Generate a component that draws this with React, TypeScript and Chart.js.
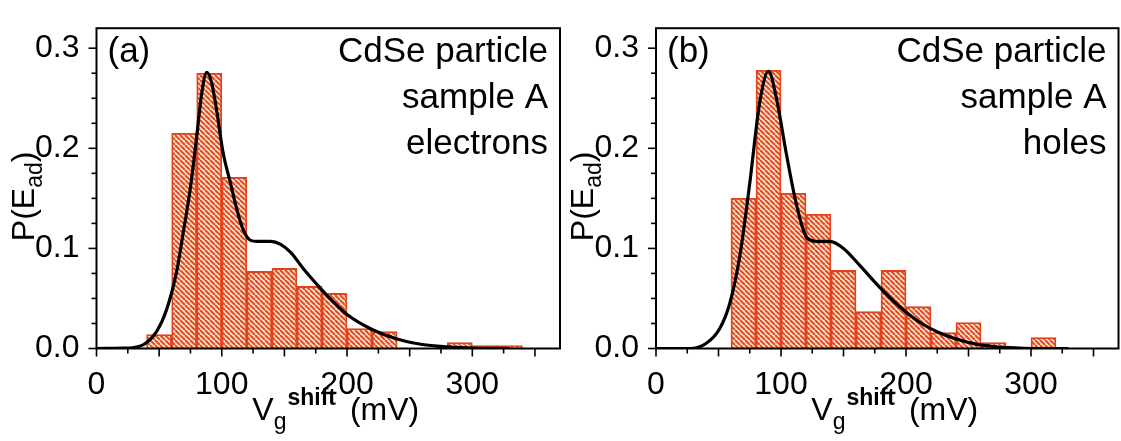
import React, { useEffect, useRef } from "react";
import { Chart, registerables } from "chart.js";

Chart.register(...registerables);

// ---------------- data ----------------
const binWidth = 20;
const binStartsA = [40, 60, 80, 100, 120, 140, 160, 180, 200, 220, 240, 260, 280, 300, 320];
const binValuesA = [0.014, 0.215, 0.275, 0.171, 0.077, 0.08, 0.062, 0.055, 0.02, 0.017, 0, 0, 0.006, 0.003, 0.003];
const binStartsB = [60, 80, 100, 120, 140, 160, 180, 200, 220, 240, 260, 280, 300];
const binValuesB = [0.15, 0.278, 0.155, 0.134, 0.078, 0.037, 0.078, 0.042, 0.016, 0.026, 0.006, 0, 0.011];

const curveXA = [0, 20, 30, 39, 48, 56, 64, 69, 75, 80, 84, 88, 92, 96, 101, 107, 112, 117, 123, 128, 139, 147, 155, 165, 176, 187, 200, 220, 240, 260, 280, 300, 330];
const curveYA = [0, 0.0003, 0.001, 0.005, 0.017, 0.039, 0.077, 0.114, 0.161, 0.212, 0.255, 0.276, 0.265, 0.237, 0.196, 0.165, 0.139, 0.119, 0.108, 0.107, 0.107, 0.104, 0.096, 0.08, 0.064, 0.049, 0.034, 0.019, 0.0094, 0.004, 0.0016, 0.0003, 0];
const curveXB = [0, 27, 40, 51, 59, 67, 75, 83, 90, 96.5, 104.5, 112.5, 120.5, 128.5, 139, 150, 163, 179, 192, 210, 230, 250, 270, 290, 310, 330];
const curveYB = [0, 0, 0.005, 0.02, 0.045, 0.092, 0.165, 0.246, 0.277, 0.249, 0.193, 0.143, 0.111, 0.107, 0.107, 0.1, 0.083, 0.061, 0.045, 0.027, 0.014, 0.006, 0.002, 0.0005, 0, 0];

const xTickLabels = [0, 100, 200, 300];
const yTickLabels = [0.0, 0.1, 0.2, 0.3];
const xRange = [0, 370];
const yRange = [0, 0.32];

const panelLabelA = "(a)";
const panelLabelB = "(b)";
const annotationA = ["CdSe particle", "sample A", "electrons"];
const annotationB = ["CdSe particle", "sample A", "holes"];

// ---------------- styling ----------------
const FONT = "'Liberation Sans', Arial, sans-serif";
const BAR_BORDER = "#e3401c";
const HATCH_LINE = "#e24a28";
const HATCH_BG = "#fce8cc";

function makeHatch(): CanvasPattern | string {
  const s = 5;
  const c = document.createElement("canvas");
  c.width = s;
  c.height = s;
  const g = c.getContext("2d");
  if (!g) return HATCH_BG;
  g.fillStyle = HATCH_BG;
  g.fillRect(0, 0, s, s);
  g.strokeStyle = HATCH_LINE;
  g.lineWidth = 2;
  for (let k = -1; k <= 1; k++) {
    g.beginPath();
    g.moveTo(k * s, 0);
    g.lineTo(k * s + s, s);
    g.stroke();
  }
  return g.createPattern(c, "repeat") || HATCH_BG;
}

function decorPlugin(panelLabel: string, annotation: string[]) {
  return {
    id: "decor",
    afterDraw(chart: any) {
      const ctx: CanvasRenderingContext2D = chart.ctx;
      const a = chart.chartArea;
      const xs = chart.scales.x;
      const ys = chart.scales.y;
      ctx.save();
      // frame
      ctx.strokeStyle = "#000";
      ctx.lineWidth = 2;
      ctx.strokeRect(a.left, a.top, a.right - a.left, a.bottom - a.top);
      // x ticks
      ctx.lineWidth = 1.6;
      for (let v = 0; v <= xRange[1]; v += 25) {
        const px = xs.getPixelForValue(v);
        const len = v % 50 === 0 ? 8 : 5;
        ctx.beginPath();
        ctx.moveTo(px, a.bottom);
        ctx.lineTo(px, a.bottom + len);
        ctx.stroke();
      }
      // y ticks
      for (let i = 0; i * 0.025 <= yRange[1] + 1e-9; i++) {
        const v = i * 0.025;
        const py = ys.getPixelForValue(v);
        const len = i % 4 === 0 ? 8 : 5;
        ctx.beginPath();
        ctx.moveTo(a.left, py);
        ctx.lineTo(a.left - len, py);
        ctx.stroke();
      }
      ctx.fillStyle = "#000";
      // panel label
      ctx.textAlign = "left";
      ctx.textBaseline = "alphabetic";
      ctx.font = `35px ${FONT}`;
      ctx.fillText(panelLabel, a.left + 11, a.top + 34);
      // annotation
      ctx.textAlign = "right";
      ctx.font = `35px ${FONT}`;
      annotation.forEach((t, i) => {
        ctx.fillText(t, a.right - 12, a.top + 34 + i * 46);
      });
      // x title: V_g^shift (mV)
      ctx.textAlign = "left";
      const cx = (a.left + a.right) / 2 + 7;
      const base = a.bottom + 71;
      const big = `32px ${FONT}`;
      const sub = `23px ${FONT}`;
      const sup = `bold 23px ${FONT}`;
      ctx.font = big;
      const wV = ctx.measureText("V").width;
      ctx.font = sub;
      const wg = ctx.measureText("g").width;
      ctx.font = sup;
      const ws = ctx.measureText("shift").width;
      ctx.font = big;
      const wm = ctx.measureText(" (mV)").width;
      const gap = 5;
      let x0 = cx - (wV + wg + ws + wm + gap) / 2;
      ctx.font = big;
      ctx.fillText("V", x0, base);
      x0 += wV;
      ctx.font = sub;
      ctx.fillText("g", x0, base + 9);
      x0 += wg + 1;
      ctx.font = sup;
      ctx.fillText("shift", x0, base - 15);
      x0 += ws + gap;
      ctx.font = big;
      ctx.fillText(" (mV)", x0, base);
      // y title: P(E_ad)
      ctx.save();
      const ty = (a.top + a.bottom) / 2 + 8;
      ctx.translate(a.left - 63, ty);
      ctx.rotate(-Math.PI / 2);
      ctx.font = big;
      const w1 = ctx.measureText("P(E").width;
      ctx.font = sub;
      const w2 = ctx.measureText("ad").width;
      ctx.font = big;
      const w3 = ctx.measureText(")").width;
      let y0 = -(w1 + w2 + w3) / 2;
      ctx.font = big;
      ctx.fillText("P(E", y0, 0);
      y0 += w1;
      ctx.font = sub;
      ctx.fillText("ad", y0, 8);
      y0 += w2;
      ctx.font = big;
      ctx.fillText(")", y0, 0);
      ctx.restore();
      ctx.restore();
    },
  };
}

function buildConfig(
  starts: number[],
  values: number[],
  cx: number[],
  cy: number[],
  yAxisWidth: number,
  padRight: number,
  panelLabel: string,
  annotation: string[]
): any {
  const barData = starts
    .map((s, i) => ({ x: s + binWidth / 2, y: values[i] }))
    .filter((d) => d.y > 0);
  const lineData = cx.map((x, i) => ({ x, y: cy[i] }));
  return {
    type: "bar",
    data: {
      datasets: [
        {
          type: "line",
          data: lineData,
          borderColor: "#000",
          borderWidth: 3.2,
          pointRadius: 0,
          cubicInterpolationMode: "monotone",
          fill: false,
          order: 0,
        },
        {
          type: "bar",
          data: barData,
          backgroundColor: makeHatch(),
          borderColor: BAR_BORDER,
          borderWidth: 1.8,
          barPercentage: 1,
          categoryPercentage: 1,
          grouped: false,
          order: 1,
        },
      ],
    },
    options: {
      responsive: false,
      animation: false,
      layout: { padding: { left: 0, right: padRight, top: 8, bottom: 0 } },
      plugins: { legend: { display: false }, tooltip: { enabled: false } },
      scales: {
        x: {
          type: "linear",
          offset: false,
          min: xRange[0],
          max: xRange[1],
          grid: { display: false, offset: false },
          border: { display: false },
          afterBuildTicks: (s: any) => {
            s.ticks = xTickLabels.map((v) => ({ value: v }));
          },
          afterFit: (s: any) => {
            s.height = 92.5;
          },
          ticks: {
            padding: 9,
            color: "#000",
            font: { family: FONT, size: 32 },
            maxRotation: 0,
            autoSkip: false,
            callback: (v: any) => String(v),
          },
        },
        y: {
          type: "linear",
          min: yRange[0],
          max: yRange[1],
          grid: { display: false },
          border: { display: false },
          afterBuildTicks: (s: any) => {
            s.ticks = yTickLabels.map((v) => ({ value: v }));
          },
          afterFit: (s: any) => {
            s.width = yAxisWidth;
          },
          ticks: {
            padding: 9,
            color: "#000",
            font: { family: FONT, size: 32 },
            autoSkip: false,
            callback: (v: any) => Number(v).toFixed(1),
          },
        },
      },
    },
    plugins: [decorPlugin(panelLabel, annotation)],
  };
}

function Panel(props: { left: number; cfg: () => any }) {
  const ref = useRef<HTMLCanvasElement | null>(null);
  useEffect(() => {
    if (!ref.current) return;
    const chart = new Chart(ref.current, props.cfg());
    return () => chart.destroy();
  }, []);
  return (
    <canvas
      ref={ref}
      width={561}
      height={441}
      style={{ position: "absolute", left: props.left, top: 0, width: 561, height: 441 }}
    />
  );
}

export default function App() {
  useEffect(() => {
    document.body.style.margin = "0";
  }, []);
  return (
    <div style={{ position: "relative", width: 1121, height: 441, background: "#fff", overflow: "hidden" }}>
      <Panel
        left={0}
        cfg={() => buildConfig(binStartsA, binValuesA, curveXA, curveYA, 96.5, 1, panelLabelA, annotationA)}
      />
      <Panel
        left={560}
        cfg={() => buildConfig(binStartsB, binValuesB, curveXB, curveYB, 96, 2.5, panelLabelB, annotationB)}
      />
    </div>
  );
}
